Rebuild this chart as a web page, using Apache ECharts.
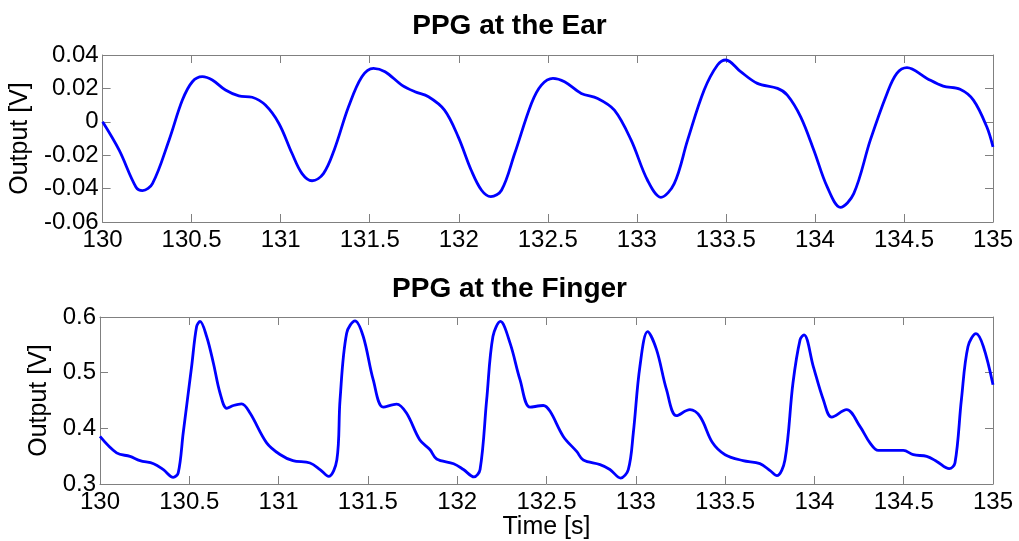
<!DOCTYPE html>
<html>
<head>
<meta charset="utf-8">
<script src="https://cdn.jsdelivr.net/npm/echarts@6/dist/echarts.min.js"></script>
<style>html,body{margin:0;padding:0;background:#fff;}#c{width:1019px;height:541px;}</style>
</head>
<body>
<div id="c"></div>
<script>
const earTitle = 'PPG at the Ear';
const fingerTitle = 'PPG at the Finger';
const yName = 'Output [V]';
const xName = 'Time [s]';

const earT = [130.00,130.093,130.187,130.224,130.28,130.373,130.448,130.504,130.56,130.616,130.69,130.765,130.84,130.914,130.99,131.064,131.12,131.176,131.24,131.30,131.381,131.456,131.521,131.586,131.68,131.754,131.83,131.92,131.997,132.07,132.128,132.18,132.24,132.314,132.408,132.464,132.529,132.594,132.688,132.78,132.874,132.968,133.06,133.135,133.21,133.285,133.378,133.453,133.50,133.583,133.677,133.79,133.845,133.92,133.994,134.069,134.143,134.218,134.311,134.405,134.46,134.517,134.629,134.72,134.815,134.89,134.965,135.0];
const earV = [0.000,-0.017,-0.039,-0.0412,-0.037,-0.011,0.013,0.024,0.027,0.025,0.019,0.0155,0.0147,0.010,-0.001,-0.019,-0.031,-0.0353,-0.031,-0.017,0.009,0.027,0.032,0.030,0.022,0.018,0.015,0.007,-0.009,-0.029,-0.041,-0.0448,-0.041,-0.019,0.011,0.022,0.026,0.024,0.017,0.014,0.007,-0.011,-0.035,-0.0452,-0.037,-0.011,0.019,0.034,0.037,0.030,0.023,0.020,0.016,0.003,-0.017,-0.039,-0.0512,-0.043,-0.011,0.017,0.029,0.0324,0.026,0.0214,0.0195,0.013,-0.003,-0.015];

const fingerT = [130.00,130.093,130.168,130.224,130.30,130.355,130.41,130.438,130.466,130.513,130.541,130.56,130.597,130.635,130.672,130.71,130.747,130.793,130.84,130.933,131.008,131.08,131.176,131.232,131.28,131.326,131.344,131.381,131.428,131.474,131.53,131.586,131.661,131.716,131.79,131.848,131.885,131.98,132.035,132.094,132.128,132.165,132.20,132.242,132.296,132.352,132.408,132.482,132.52,132.594,132.67,132.706,132.80,132.855,132.915,132.958,132.986,133.023,133.066,133.116,133.172,133.228,133.303,133.36,133.43,133.50,133.60,133.695,133.75,133.79,133.835,133.88,133.92,133.942,133.994,134.05,134.097,134.18,134.255,134.311,134.358,134.498,134.554,134.629,134.685,134.755,134.787,134.823,134.86,134.905,134.946,135.0];
const fingerV = [0.3855,0.356,0.3496,0.342,0.3365,0.3257,0.312,0.320,0.392,0.511,0.583,0.592,0.565,0.517,0.4635,0.436,0.441,0.444,0.4275,0.374,0.353,0.342,0.3377,0.326,0.3137,0.343,0.451,0.571,0.593,0.565,0.487,0.438,0.4436,0.4275,0.3795,0.3616,0.345,0.3365,0.326,0.3127,0.326,0.4514,0.565,0.592,0.553,0.487,0.438,0.441,0.4305,0.3855,0.358,0.343,0.3347,0.326,0.3107,0.326,0.3916,0.511,0.5736,0.5413,0.4694,0.4227,0.4335,0.421,0.374,0.3526,0.342,0.3365,0.3245,0.315,0.343,0.4814,0.5593,0.568,0.511,0.4514,0.420,0.4335,0.4035,0.374,0.3604,0.3604,0.3526,0.3496,0.3406,0.3275,0.3377,0.4514,0.547,0.570,0.547,0.4784];

const xMin = 130, xMax = 135, xStep = 0.5;
const earYMin = -0.06, earYMax = 0.04, earYStep = 0.02;
const fingerYMin = 0.3, fingerYMax = 0.6, fingerYStep = 0.1;

const FONT = "Arial, 'Liberation Sans', sans-serif";
const frame = '#808080';
const lineColor = '#0000ff';

function zip(a, b) { return a.map((t, i) => [t, b[i]]); }
function fmt(v) { const r = Math.round(v * 1000) / 1000; return String(r); }

function xAx(gi, pos, show, withName) {
  return {
    type: 'value', gridIndex: gi, position: pos, min: xMin, max: xMax, interval: xStep,
    axisLine: { show: true, onZero: false, lineStyle: { color: frame, width: 1 } },
    axisTick: { show: true, inside: true, length: 8, lineStyle: { color: frame } },
    axisLabel: { show: show, color: '#000', fontFamily: FONT, fontSize: 24, margin: 6, formatter: fmt },
    splitLine: { show: false },
    name: withName ? xName : '', nameLocation: 'middle', nameGap: 28,
    nameTextStyle: { color: '#000', fontFamily: FONT, fontSize: 25 }
  };
}
function yAx(gi, pos, show, mn, mx, st, gap) {
  return {
    type: 'value', gridIndex: gi, position: pos, min: mn, max: mx, interval: st,
    axisLine: { show: true, onZero: false, lineStyle: { color: frame, width: 1 } },
    axisTick: { show: true, inside: true, length: 8, lineStyle: { color: frame } },
    axisLabel: { show: show, color: '#000', fontFamily: FONT, fontSize: 24, margin: 4, formatter: fmt },
    splitLine: { show: false },
    name: show ? yName : '', nameLocation: 'middle', nameGap: gap, nameRotate: 90,
    nameTextStyle: { color: '#000', fontFamily: FONT, fontSize: 25 }
  };
}

const chart = echarts.init(document.getElementById('c'), null, { renderer: 'canvas' });
chart.setOption({
  animation: false,
  backgroundColor: '#fff',
  title: [
    { text: earTitle, left: 'center', top: 7, textStyle: { fontFamily: FONT, fontSize: 28, fontWeight: 'bold', color: '#000' } },
    { text: fingerTitle, left: 'center', top: 270, textStyle: { fontFamily: FONT, fontSize: 28, fontWeight: 'bold', color: '#000' } }
  ],
  grid: [
    { left: 100, right: 26, top: 55, height: 167 },
    { left: 100, right: 26, top: 317, height: 167 }
  ],
  xAxis: [ xAx(0, 'bottom', true, false), xAx(0, 'top', false, false), xAx(1, 'bottom', true, true), xAx(1, 'top', false, false) ],
  yAxis: [
    yAx(0, 'left', true, earYMin, earYMax, earYStep, 65),
    yAx(0, 'right', false, earYMin, earYMax, earYStep, 0),
    yAx(1, 'left', true, fingerYMin, fingerYMax, fingerYStep, 46),
    yAx(1, 'right', false, fingerYMin, fingerYMax, fingerYStep, 0)
  ],
  series: [
    { type: 'line', xAxisIndex: 0, yAxisIndex: 0, data: zip(earT, earV), smooth: 0.35, showSymbol: false, lineStyle: { color: lineColor, width: 2.8 } },
    { type: 'line', xAxisIndex: 2, yAxisIndex: 2, data: zip(fingerT, fingerV), smooth: 0.35, showSymbol: false, lineStyle: { color: lineColor, width: 2.8 } }
  ]
});
</script>
</body>
</html>
